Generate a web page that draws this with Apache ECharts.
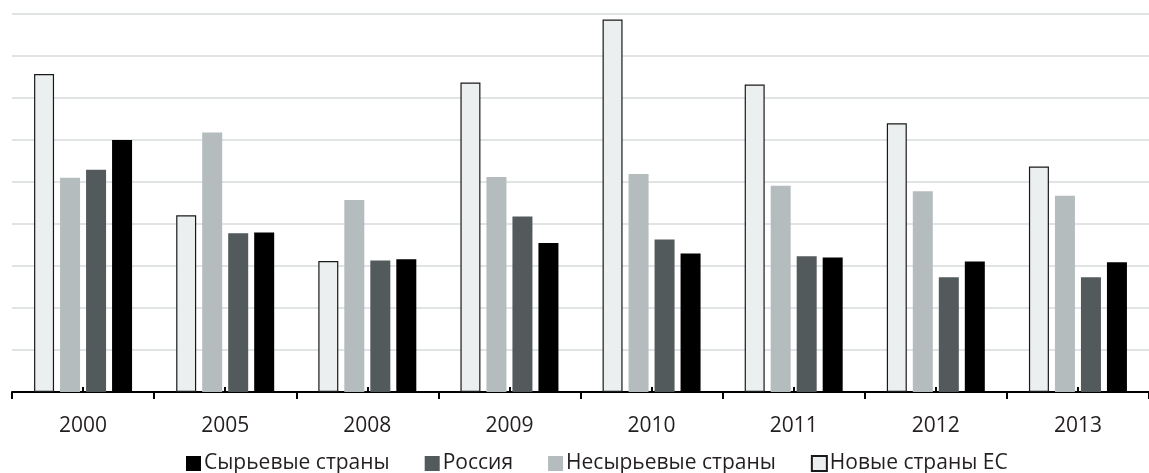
<!DOCTYPE html>
<html>
<head>
<meta charset="utf-8">
<script src="https://cdn.jsdelivr.net/npm/echarts@6/dist/echarts.min.js"></script>
<style>
html,body{margin:0;padding:0;background:#fff;}
#chart{width:1149px;height:473px;}
</style>
</head>
<body>
<div id="chart"></div>
<script>
const categories = ['2000','2005','2008','2009','2010','2011','2012','2013'];
const newEU      = [7.57, 4.21, 3.12, 7.37, 8.87, 7.32, 6.40, 5.37];
const nonRaw     = [5.10, 6.18, 4.57, 5.12, 5.19, 4.91, 4.78, 4.67];
const russia     = [5.29, 3.78, 3.13, 4.18, 3.63, 3.23, 2.73, 2.73];
const raw        = [6.00, 3.80, 3.16, 3.55, 3.30, 3.20, 3.11, 3.09];
const legendNames = ['Сырьевые страны','Россия','Несырьевые страны','Новые страны ЕС'];

const FONT = 'Open Sans';
const chart = echarts.init(document.getElementById('chart'));
chart.setOption({
  animation: false,
  backgroundColor: '#ffffff',
  grid: {left: 12, top: 14, width: 1147, height: 378, containLabel: false},
  legend: {
    data: legendNames,
    top: 448,
    left: 181,
    icon: 'rect',
    itemWidth: 15,
    itemHeight: 15,
    itemGap: 35,
    textStyle: {fontFamily: FONT, fontSize: 21, color: '#231f20', padding: [0,0,0,-2]}
  },
  xAxis: [{
    type: 'category',
    data: categories,
    position: 'bottom',
    axisLine: {show: true, lineStyle: {color: '#000', width: 2}},
    axisTick: {show: true, inside: false, length: 7, lineStyle: {color: '#000', width: 2}},
    axisLabel: {fontFamily: FONT, fontSize: 21, color: '#231f20', margin: 24},
    splitLine: {show: false}
  },{
    type: 'category',
    data: categories,
    position: 'bottom',
    axisLine: {show: true, lineStyle: {color: 'rgba(0,0,0,0)', width: 0}},
    axisTick: {show: true, inside: true, alignWithLabel: true, length: 5, lineStyle: {color: '#000', width: 2}},
    axisLabel: {show: false},
    splitLine: {show: false}
  }],
  yAxis: {
    type: 'value',
    min: 0, max: 9, interval: 1,
    axisLine: {show: false},
    axisTick: {show: false},
    axisLabel: {show: false},
    splitLine: {show: true, lineStyle: {color: '#d7dbdc', width: 1.5}}
  },
  series: [
    {name: 'Новые страны ЕС', type: 'bar', data: newEU, barWidth: 20, barGap: '30%',
      itemStyle: {color: '#ebefef', borderColor: '#1a1a1a', borderWidth: 1.2}},
    {name: 'Несырьевые страны', type: 'bar', data: nonRaw, barWidth: 20, barGap: '30%',
      itemStyle: {color: '#b5bcbe'}},
    {name: 'Россия', type: 'bar', data: russia, barWidth: 20, barGap: '30%',
      itemStyle: {color: '#535a5c'}},
    {name: 'Сырьевые страны', type: 'bar', data: raw, barWidth: 20, barGap: '30%',
      itemStyle: {color: '#000000'}}
  ]
});
</script>
</body>
</html>
